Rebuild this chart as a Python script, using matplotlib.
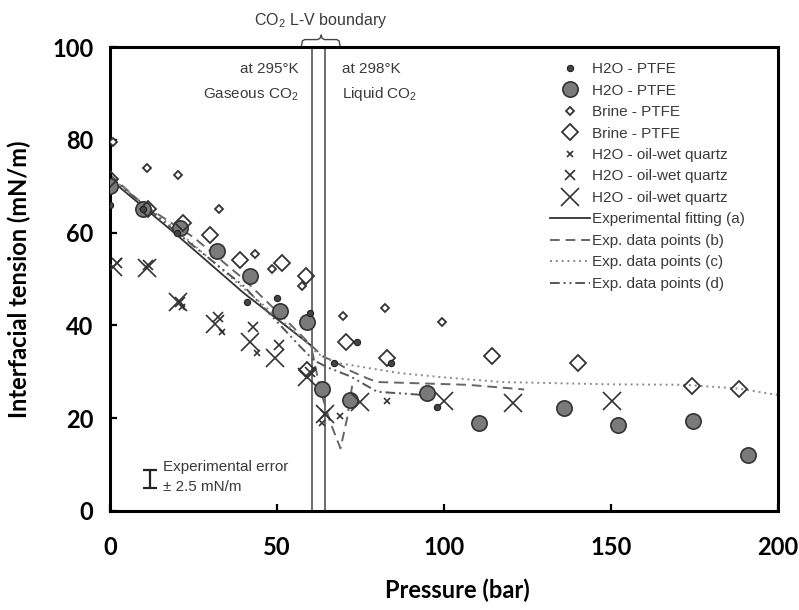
import matplotlib
matplotlib.use("Agg")
import matplotlib.pyplot as plt

# ---------------- data ----------------
h2o_small_p = [0, 10, 20, 41, 50, 60, 67, 74, 84, 98]
h2o_small_ift = [66, 65, 60, 45, 46, 42.6, 32, 36.5, 32, 22.5]

h2o_large_p = [0, 10, 21, 32, 42, 51, 59, 63.5, 72, 95, 110.5, 136, 152, 174.5, 191]
h2o_large_ift = [70, 65, 61, 56, 50.6, 43, 40.8, 26.4, 24, 25.4, 18.9, 22.1, 18.5, 19.4, 12.1]

brine_small_p = [1, 11, 20.5, 32.7, 43.4, 48.4, 57.4, 69.9, 82.3, 99.3]
brine_small_ift = [79.5, 74, 72.4, 65, 55.4, 52.1, 48.5, 42, 43.7, 40.8]

brine_large_p = [0, 11.5, 22, 30, 39, 51.4, 58.7, 58.9, 70.6, 82.8, 114.3, 140.2, 174.4, 188.4]
brine_large_ift = [71.5, 65, 62, 59.5, 54, 53.5, 50.6, 30.4, 36.5, 33, 33.3, 31.8, 26.9, 26.4]

quartz_small_p = [21.5, 33.4, 43.9, 63.4, 68.9, 82.8]
quartz_small_ift = [44, 38.6, 34, 19, 20.5, 23.6]

quartz_med_p = [2, 11.5, 21, 32.4, 42.9, 50.7, 59.9, 64.4]
quartz_med_ift = [53.5, 53, 45.1, 41.9, 39.7, 35.8, 30, 21]

quartz_large_p = [1, 11, 20.5, 31.4, 41.9, 49.4, 58.9, 64.4, 74.9, 100, 120.7, 150.2]
quartz_large_ift = [52.5, 52.3, 45.1, 40.4, 36.5, 32.9, 28.9, 21, 23.4, 23.8, 23.2, 23.8]

fit_a_p = [0, 20, 40, 60.5]
fit_a_ift = [71.5, 59.5, 47, 35.5]

curve_b_p = [0, 10, 25, 40, 55, 60.5, 64, 67, 72, 77, 80, 107, 124]
curve_b_ift = [72.5, 66, 59, 50, 39.5, 35.5, 33.2, 32.3, 30.2, 28.6, 27.8, 27.2, 26.2]
curve_b2_p = [60.5, 63, 66, 69, 71, 72.5]
curve_b2_ift = [34.5, 26, 19, 13.5, 20, 27]

curve_c_p = [0, 20, 40, 58, 62, 67.4, 80, 87, 100, 117, 150, 172, 188, 200]
curve_c_ift = [72, 60.5, 48, 37, 34, 32, 30.5, 29.7, 28.8, 27.8, 27.3, 27.2, 26.4, 25]

curve_d_p = [0, 20, 40, 57, 61, 65, 72, 80, 94]
curve_d_ift = [72, 60, 48.5, 35.4, 32.5, 31, 29, 25.7, 25]

boundary_p = [60.5, 64.5]
x_ticks = [0, 50, 100, 150, 200]
y_ticks = [0, 20, 40, 60, 80, 100]

# ---------------- style ----------------
plt.rcParams['mathtext.fontset'] = 'custom'
plt.rcParams['mathtext.rm'] = 'Liberation Sans'
plt.rcParams['mathtext.it'] = 'Liberation Sans:italic'
plt.rcParams['mathtext.bf'] = 'Liberation Sans:bold'

inner_font = ['Liberation Sans', 'DejaVu Sans']
tick_font = ['Lato', 'DejaVu Sans']
txt_col = '#3a3a3a'
mk_col = '#333333'

fig = plt.figure(figsize=(7.99, 6.10), dpi=100)
ax = fig.add_axes([110 / 799, 1 - 511 / 610, 668 / 799, 464 / 610])
ax.set_xlim(0, 200)
ax.set_ylim(0, 100)

# boundary lines
for bp in boundary_p:
    ax.axvline(bp, color='#444444', lw=1.1, zorder=1)

# curves
ax.plot(fit_a_p, fit_a_ift, color='#333333', lw=1.3, label='Experimental fitting (a)', zorder=2)
ax.plot(curve_b_p, curve_b_ift, color='#666666', lw=1.4, dashes=(5, 3), label='Exp. data points (b)', zorder=2)
ax.plot(curve_b2_p, curve_b2_ift, color='#666666', lw=1.4, dashes=(5, 3), zorder=2)
ax.plot(curve_c_p, curve_c_ift, color='#8a8a8a', lw=1.4, dashes=(1, 2), label='Exp. data points (c)', zorder=2)
ax.plot(curve_d_p, curve_d_ift, color='#555555', lw=1.4, dashes=(5, 2, 1, 2, 1, 2), label='Exp. data points (d)', zorder=2)

# markers
s1 = ax.plot(h2o_small_p, h2o_small_ift, ls='none', marker='o', ms=4.5, mfc='#444444', mec='#222222', mew=0.8, zorder=4)[0]
s2 = ax.plot(h2o_large_p, h2o_large_ift, ls='none', marker='o', ms=11, mfc='#7a7a7a', mec='#333333', mew=1.2, zorder=3)[0]
s3 = ax.plot(brine_small_p, brine_small_ift, ls='none', marker='D', ms=4.2, mfc='white', mec=mk_col, mew=1.3, zorder=3)[0]
s4 = ax.plot(brine_large_p, brine_large_ift, ls='none', marker='D', ms=8.5, mfc='none', mec=mk_col, mew=1.3, zorder=3)[0]
s5 = ax.plot(quartz_small_p, quartz_small_ift, ls='none', marker='x', ms=5, mec=mk_col, mew=1.2, zorder=3)[0]
s6 = ax.plot(quartz_med_p, quartz_med_ift, ls='none', marker='x', ms=7.5, mec=mk_col, mew=1.2, zorder=3)[0]
s7 = ax.plot(quartz_large_p, quartz_large_ift, ls='none', marker='x', ms=13, mec=mk_col, mew=1.2, zorder=3)[0]

# error bar icon
ax.errorbar([12], [6.9], yerr=[1.95], fmt='none', ecolor='#222222', elinewidth=1.6, capsize=5, capthick=1.6)
ax.text(15.8, 9.5, 'Experimental error', fontsize=11, family=inner_font, color=txt_col, va='center', ha='left')
ax.text(15.8, 5.2, '± 2.5 mN/m', fontsize=11, family=inner_font, color=txt_col, va='center', ha='left')

# annotations
ax.text(56.5, 95.3, 'at 295°K', fontsize=11, family=inner_font, color=txt_col, ha='right', va='center')
ax.text(56.5, 89.8, 'Gaseous CO$_\\mathrm{2}$', fontsize=11, family=inner_font, color=txt_col, ha='right', va='center')
ax.text(69.5, 95.3, 'at 298°K', fontsize=11, family=inner_font, color=txt_col, ha='left', va='center')
ax.text(69.5, 89.8, 'Liquid CO$_\\mathrm{2}$', fontsize=11, family=inner_font, color=txt_col, ha='left', va='center')
ax.text(63.0, 105.8, 'CO$_\\mathrm{2}$ L-V boundary', fontsize=11.5, family=inner_font, color=txt_col,
        ha='center', va='center', clip_on=False)
# brace above the boundary
brace_x = [57.3, 57.6, 58.3, 62.2, 62.9, 63.2, 63.5, 64.2, 67.9, 68.6, 68.9]
brace_y = [100.2, 101.3, 101.6, 101.6, 101.9, 102.6, 101.9, 101.6, 101.6, 101.3, 100.2]
ax.plot(brace_x, brace_y, color='#444444', lw=1.0, clip_on=False)

# legend
line_handles = [l for l in ax.get_lines() if l.get_label() and not l.get_label().startswith('_')]
labels = ['H2O - PTFE', 'H2O - PTFE', 'Brine - PTFE', 'Brine - PTFE',
          'H2O - oil-wet quartz', 'H2O - oil-wet quartz', 'H2O - oil-wet quartz']
all_handles = [s1, s2, s3, s4, s5, s6, s7] + line_handles
all_labels = labels + [l.get_label() for l in line_handles]
leg = ax.legend(all_handles, all_labels, loc='upper right', bbox_to_anchor=(0.962, 0.984),
                frameon=False, borderpad=0, handlelength=2.6, handletextpad=0.15,
                labelspacing=0.49, prop={'family': inner_font, 'size': 11})
for t in leg.get_texts():
    t.set_color(txt_col)

# axes styling
for sp in ax.spines.values():
    sp.set_linewidth(2.2)
    sp.set_color('black')
ax.set_xticks(x_ticks)
ax.set_yticks(y_ticks)
ax.tick_params(axis='both', direction='in', length=5, width=1.6, color='black')
ax.tick_params(axis='x', pad=18)
ax.tick_params(axis='y', pad=12)
for lab in ax.get_xticklabels() + ax.get_yticklabels():
    lab.set_fontfamily(tick_font)
    lab.set_fontweight('bold')
    lab.set_fontsize(17)

ax.set_xlabel('Pressure (bar)', fontsize=17, fontweight='bold', family=tick_font)
ax.set_ylabel('Interfacial tension (mN/m)', fontsize=17, fontweight='bold', family=tick_font)
ax.xaxis.set_label_coords(0.52, -0.145)
ax.yaxis.set_label_coords(-0.118, 0.5)

fig.savefig('out.png', dpi=100)
